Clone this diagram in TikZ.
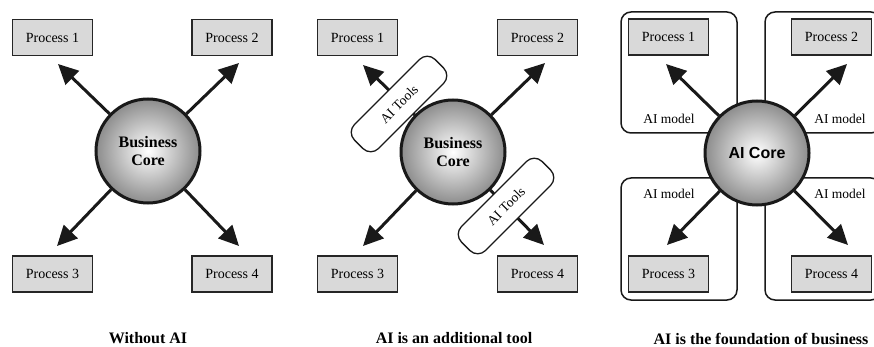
\documentclass[tikz,border=0pt]{standalone}
\usepackage{fontspec}
\setmainfont{Liberation Serif}
\newfontfamily\arialfont{Liberation Sans}
\usetikzlibrary{arrows.meta}
\begin{document}
\begin{tikzpicture}[x=1pt,y=-1pt,
 proc/.style={draw=black!85, line width=1.3pt, fill=black!15, minimum width=80pt, minimum height=36pt, inner sep=0pt, font=\fontsize{14}{16}\selectfont},
 core/.style={circle, draw=black!90, line width=3pt, minimum size=104pt, inner sep=0pt, inner color=white, outer color=black!45, font=\bfseries\fontsize{16}{18}\selectfont, align=center},
 arr/.style={line width=3pt, draw=black!90, -{Triangle[length=20pt,width=19pt]}},
 tool/.style={draw=black!90, line width=1.3pt, fill=white, rounded corners=11pt, minimum width=114pt, minimum height=34pt, rotate=45, inner sep=0pt, font=\fontsize{13.5}{15}\selectfont},
 model/.style={draw=black!90, line width=1.5pt, rounded corners=10pt, inner sep=0pt},
 captxt/.style={font=\bfseries\fontsize{16}{18}\selectfont, anchor=base},
 mlabel/.style={font=\fontsize{13.5}{15}\selectfont, inner sep=0pt}
]
\useasboundingbox (0,0) rectangle (874,347);
\clip (0,0) rectangle (874,347);

% ---------- Panel 1 ----------
\node[proc] (a1) at (52.5,37.5) {Process 1};
\node[proc] (a2) at (232,37.5) {Process 2};
\node[proc] (a3) at (52.5,274) {Process 3};
\node[proc] (a4) at (232,274) {Process 4};
\node[core] (ca) at (148,151) {Business\\Core};
\coordinate (ta1) at (58,64);
\coordinate (ta2) at (239,63);
\coordinate (ta3) at (57,246);
\coordinate (ta4) at (239,246);
\draw[arr] (ca) -- (ta1);
\draw[arr] (ca) -- (ta2);
\draw[arr] (ca) -- (ta3);
\draw[arr] (ca) -- (ta4);
\node[captxt] (capa) at (148,343.5) {Without AI};

% ---------- Panel 2 ----------
\node[proc] (b1) at (357.5,37.5) {Process 1};
\node[proc] (b2) at (537.5,37.5) {Process 2};
\node[proc] (b3) at (357.5,274) {Process 3};
\node[proc] (b4) at (537.5,274) {Process 4};
\node[core] (cb) at (453,152) {Business\\Core};
\coordinate (tb1) at (363,65);
\coordinate (tb2) at (545,63);
\coordinate (tb3) at (363,246);
\coordinate (tb4) at (544,245);
\draw[arr] (cb) -- (tb1);
\draw[arr] (cb) -- (tb2);
\draw[arr] (cb) -- (tb3);
\draw[arr] (cb) -- (tb4);
\node[tool] (tool1) at (399,104) {AI Tools};
\node[tool] (tool2) at (506,206) {AI Tools};
\node[captxt] (capb) at (454,343.5) {AI is an additional tool};

% ---------- Panel 3 ----------
\node[model, minimum width=116pt, minimum height=121pt] (m1) at (679,72.5) {};
\node[model, minimum width=116pt, minimum height=121pt] (m2) at (823,72.5) {};
\node[model, minimum width=116pt, minimum height=122pt] (m3) at (679,239) {};
\node[model, minimum width=116pt, minimum height=122pt] (m4) at (823,239) {};
\node[mlabel] (l1) at (669,119) {AI model};
\node[mlabel] (l2) at (840,119) {AI model};
\node[mlabel] (l3) at (669,194) {AI model};
\node[mlabel] (l4) at (840,194) {AI model};
\node[proc] (c1) at (668.5,37) {Process 1};
\node[proc] (c2) at (831.5,37) {Process 2};
\node[proc] (c3) at (668.5,274) {Process 3};
\node[proc] (c4) at (831.5,274) {Process 4};
\node[core, font=\arialfont\bfseries\fontsize{16}{18}\selectfont] (cc) at (757,153) {AI Core};
\coordinate (tc1) at (666,64);
\coordinate (tc2) at (847,64);
\coordinate (tc3) at (667,245);
\coordinate (tc4) at (848,245);
\draw[arr] (cc) -- (tc1);
\draw[arr] (cc) -- (tc2);
\draw[arr] (cc) -- (tc3);
\draw[arr] (cc) -- (tc4);
\node[captxt] (capc) at (761,344) {AI is the foundation of business};
\end{tikzpicture}
\end{document}
